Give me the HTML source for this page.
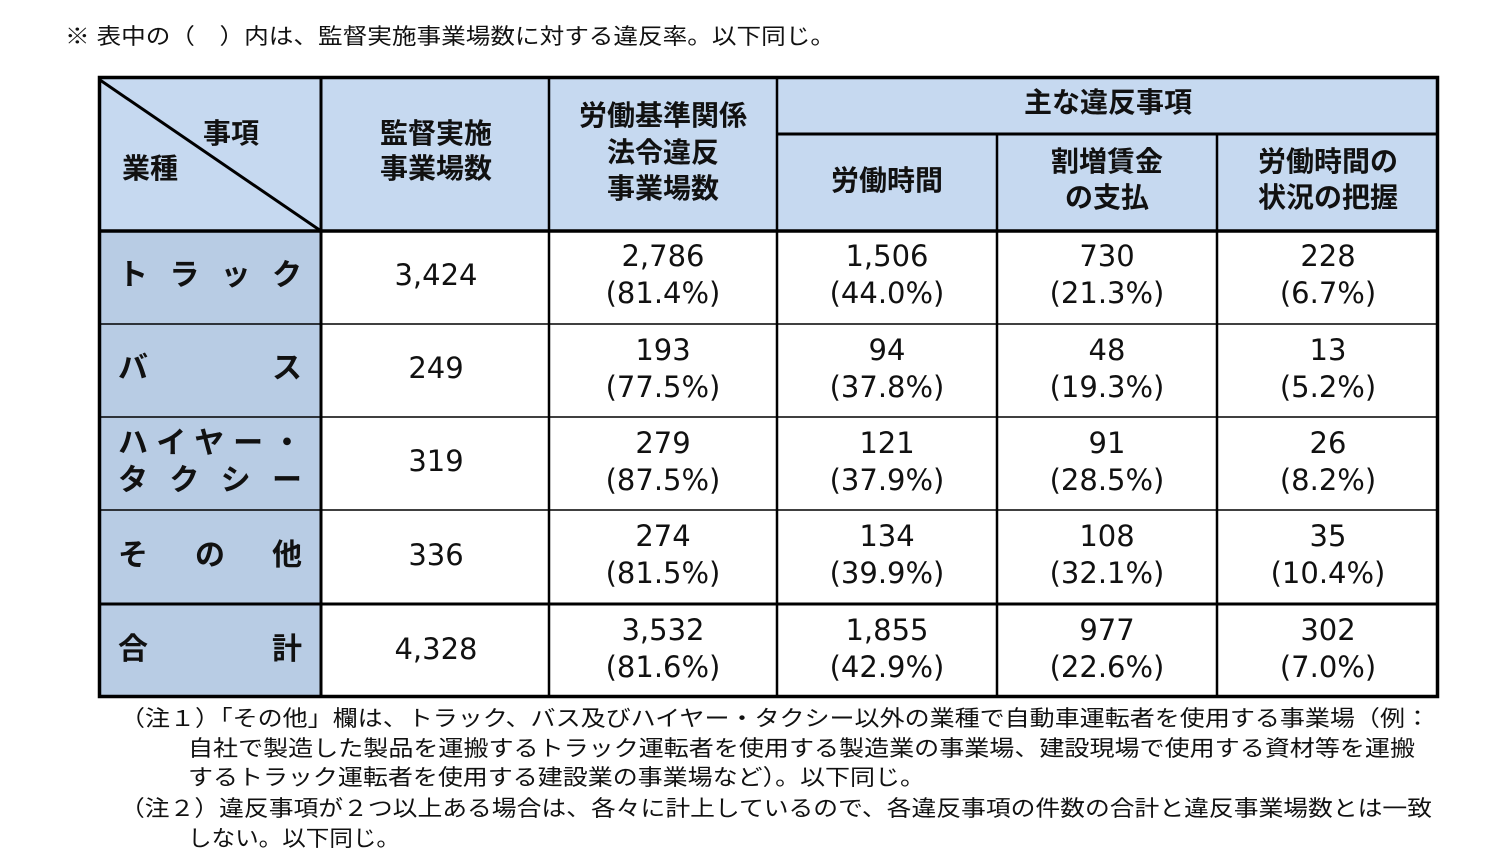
<!DOCTYPE html>
<html><head><meta charset="utf-8"><style>
html,body{margin:0;padding:0;background:#fff;}
svg{display:block;}
.n{font-family:"DejaVu Sans","Liberation Sans",sans-serif;font-size:29px;fill:#111;text-anchor:middle;}
.h{font-family:"Liberation Sans","Noto Sans CJK JP",sans-serif;font-weight:bold;font-size:28px;fill:#111;text-anchor:middle;}
.r{font-family:"Liberation Sans","Noto Sans CJK JP",sans-serif;font-weight:bold;font-size:30px;fill:#111;}
.t{font-family:"Liberation Sans","Noto Sans CJK JP",sans-serif;font-size:22px;fill:#111;}
</style></head><body>
<svg width="1509" height="860" viewBox="0 0 1509 860">
<text class="t" x="65" y="44" textLength="770" lengthAdjust="spacingAndGlyphs">※ 表中の（　）内は、監督実施事業場数に対する違反率。以下同じ。</text>
<g>
<rect x="98" y="76" width="1341" height="155" fill="#c6d9f0"/>
<rect x="98" y="231" width="223" height="467" fill="#b8cce4"/>
</g>
<g stroke="#000">
<line x1="98" y1="324" x2="1439" y2="324" stroke-width="1.5"/>
<line x1="98" y1="417" x2="1439" y2="417" stroke-width="1.5"/>
<line x1="98" y1="510" x2="1439" y2="510" stroke-width="1.5"/>
<line x1="98" y1="604" x2="1439" y2="604" stroke-width="3"/>
<line x1="777" y1="134" x2="1439" y2="134" stroke-width="3"/>
<line x1="98" y1="231" x2="1439" y2="231" stroke-width="3.5"/>
<line x1="321" y1="76" x2="321" y2="698" stroke-width="3"/>
<line x1="549" y1="76" x2="549" y2="698" stroke-width="2.5"/>
<line x1="777" y1="76" x2="777" y2="698" stroke-width="2.5"/>
<line x1="997" y1="134" x2="997" y2="698" stroke-width="2.5"/>
<line x1="1217" y1="134" x2="1217" y2="698" stroke-width="2.5"/>
<line x1="100" y1="80" x2="321" y2="231" stroke-width="3"/>
<rect x="99.5" y="77.5" width="1338" height="619" fill="none" stroke-width="3.5"/>
</g>
<g>
<text class="h" x="231" y="143">事項</text>
<text class="h" x="150" y="178">業種</text>
<text class="h" x="436" y="143">監督実施</text>
<text class="h" x="436" y="178">事業場数</text>
<text class="h" x="663" y="125">労働基準関係</text>
<text class="h" x="663" y="162">法令違反</text>
<text class="h" x="663" y="198">事業場数</text>
<text class="h" x="1108" y="112">主な違反事項</text>
<text class="h" x="887" y="190">労働時間</text>
<text class="h" x="1107" y="171">割増賃金</text>
<text class="h" x="1107" y="207">の支払</text>
<text class="h" x="1328" y="171">労働時間の</text>
<text class="h" x="1328" y="207">状況の把握</text>
</g>
<g>
<text class="r" x="118" y="285" textLength="184" lengthAdjust="spacing">トラック</text>
<text class="r" x="118" y="378" textLength="184" lengthAdjust="spacing">バス</text>
<text class="r" x="118" y="453" textLength="184" lengthAdjust="spacing">ハイヤー・</text>
<text class="r" x="118" y="490" textLength="184" lengthAdjust="spacing">タクシー</text>
<text class="r" x="118" y="565" textLength="184" lengthAdjust="spacing">その他</text>
<text class="r" x="118" y="659" textLength="184" lengthAdjust="spacing">合計</text>
</g>
<g>
<text class="n" x="436" y="285">3,424</text>
<text class="n" x="436" y="378">249</text>
<text class="n" x="436" y="471">319</text>
<text class="n" x="436" y="565">336</text>
<text class="n" x="436" y="659">4,328</text>

<text class="n" x="663" y="266">2,786</text><text class="n" x="663" y="303">(81.4%)</text>
<text class="n" x="887" y="266">1,506</text><text class="n" x="887" y="303">(44.0%)</text>
<text class="n" x="1107" y="266">730</text><text class="n" x="1107" y="303">(21.3%)</text>
<text class="n" x="1328" y="266">228</text><text class="n" x="1328" y="303">(6.7%)</text>

<text class="n" x="663" y="360">193</text><text class="n" x="663" y="397">(77.5%)</text>
<text class="n" x="887" y="360">94</text><text class="n" x="887" y="397">(37.8%)</text>
<text class="n" x="1107" y="360">48</text><text class="n" x="1107" y="397">(19.3%)</text>
<text class="n" x="1328" y="360">13</text><text class="n" x="1328" y="397">(5.2%)</text>

<text class="n" x="663" y="453">279</text><text class="n" x="663" y="490">(87.5%)</text>
<text class="n" x="887" y="453">121</text><text class="n" x="887" y="490">(37.9%)</text>
<text class="n" x="1107" y="453">91</text><text class="n" x="1107" y="490">(28.5%)</text>
<text class="n" x="1328" y="453">26</text><text class="n" x="1328" y="490">(8.2%)</text>

<text class="n" x="663" y="546">274</text><text class="n" x="663" y="583">(81.5%)</text>
<text class="n" x="887" y="546">134</text><text class="n" x="887" y="583">(39.9%)</text>
<text class="n" x="1107" y="546">108</text><text class="n" x="1107" y="583">(32.1%)</text>
<text class="n" x="1328" y="546">35</text><text class="n" x="1328" y="583">(10.4%)</text>

<text class="n" x="663" y="640">3,532</text><text class="n" x="663" y="677">(81.6%)</text>
<text class="n" x="887" y="640">1,855</text><text class="n" x="887" y="677">(42.9%)</text>
<text class="n" x="1107" y="640">977</text><text class="n" x="1107" y="677">(22.6%)</text>
<text class="n" x="1328" y="640">302</text><text class="n" x="1328" y="677">(7.0%)</text>
</g>
<g>
<text class="t" x="120" y="726" textLength="1310" lengthAdjust="spacingAndGlyphs">（注１）「その他」欄は、トラック、バス及びハイヤー・タクシー以外の業種で自動車運転者を使用する事業場（例：</text>
<text class="t" x="188" y="756" textLength="1227" lengthAdjust="spacingAndGlyphs">自社で製造した製品を運搬するトラック運転者を使用する製造業の事業場、建設現場で使用する資材等を運搬</text>
<text class="t" x="188" y="785" textLength="737" lengthAdjust="spacingAndGlyphs">するトラック運転者を使用する建設業の事業場など）。以下同じ。</text>
<text class="t" x="120" y="816" textLength="1312" lengthAdjust="spacingAndGlyphs">（注２）違反事項が２つ以上ある場合は、各々に計上しているので、各違反事項の件数の合計と違反事業場数とは一致</text>
<text class="t" x="188" y="846" textLength="212" lengthAdjust="spacingAndGlyphs">しない。以下同じ。</text>
</g>
</svg>
</body></html>
